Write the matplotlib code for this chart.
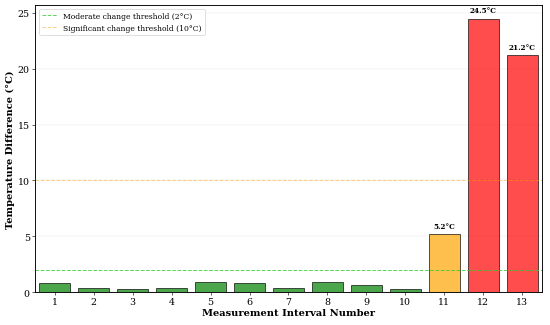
import matplotlib

matplotlib.use("Agg")
import matplotlib.pyplot as plt
import numpy as np

intervals = list(range(1, 14))
temp_diff = [0.8, 0.4, 0.3, 0.4, 0.9, 0.8, 0.4, 0.9, 0.6, 0.3, 5.2, 24.5, 21.2]
moderate = 2
significant = 10

plt.rcParams["font.family"] = "DejaVu Serif"


def bar_color(v):
    if v >= significant:
        return "red"
    if v >= moderate:
        return "orange"
    return "green"


colors = [bar_color(v) for v in temp_diff]

fig, ax = plt.subplots(figsize=(10, 5.927), dpi=55)
bars = ax.bar(intervals, temp_diff, width=0.8, color=colors, alpha=0.7,
              edgecolor="black", linewidth=1.2)
for rect in bars:
    rect.set_edgecolor((0, 0, 0, 0.8))

ax.axhline(moderate, color="limegreen", linestyle="--", alpha=0.8, linewidth=1.3,
           label="Moderate change threshold (2°C)")
ax.axhline(significant, color="orange", linestyle="--", alpha=0.5, linewidth=1.3,
           label="Significant change threshold (10°C)")

for x, v in zip(intervals, temp_diff):
    if v >= moderate:
        ax.text(x, v + 0.4, f"{v}°C", ha="center", va="bottom",
                fontsize=9.5, fontweight="bold")

ax.set_xlim(0.5, 13.5)
ax.set_ylim(0, max(temp_diff) * 1.05)
ax.set_xticks(intervals)
ax.set_yticks([0, 5, 10, 15, 20, 25])
ax.tick_params(labelsize=12.5)
ax.grid(axis="y", alpha=0.3, linewidth=0.6)
ax.set_axisbelow(True)
ax.set_xlabel("Measurement Interval Number", fontsize=13, fontweight="bold", labelpad=2)
ax.set_ylabel("Temperature Difference (°C)", fontsize=13, fontweight="bold")
ax.legend(loc="upper left", fontsize=10)
for s in ax.spines.values():
    s.set_linewidth(1.2)

fig.subplots_adjust(left=0.064, right=0.985, top=0.982, bottom=0.101)
fig.savefig("out.png")
plt.close(fig)
